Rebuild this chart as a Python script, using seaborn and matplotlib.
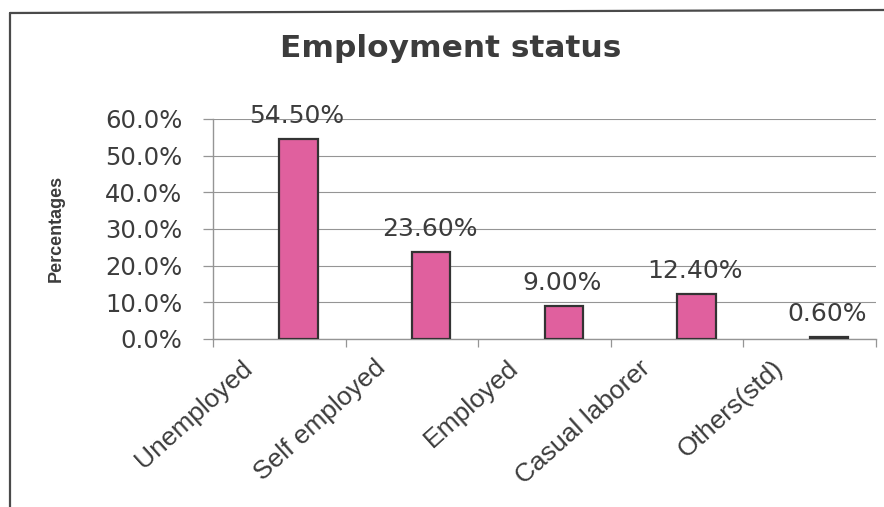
import matplotlib
matplotlib.use("Agg")
import matplotlib.pyplot as plt
import matplotlib.transforms as mtransforms
from matplotlib.lines import Line2D
import pandas as pd
import seaborn as sns

# Employment status of respondents (percent)
categories = ["Unemployed", "Self employed", "Employed", "Casual laborer", "Others(std)"]
percentages = [54.5, 23.6, 9.0, 12.4, 0.6]
y_ticks = [0, 10, 20, 30, 40, 50, 60]

df = pd.DataFrame({"status": categories, "pct": percentages})

sns.set_theme(style="white")
plt.rcParams["font.family"] = ["DejaVu Sans"]

W, H, DPI = 884, 507, 100
fig = plt.figure(figsize=(W / DPI, H / DPI), dpi=DPI)
fig.patch.set_facecolor("white")

ax = fig.add_axes([213 / W, 168 / H, 663 / W, 220 / H])

text_col = "#3c3c3c"
grid_col = "#959595"
bar_col = "#E0609E"
bar_w = 0.29

sns.barplot(data=df, x="status", y="pct", order=categories, color=bar_col,
            width=bar_w, saturation=1, edgecolor="#333333", linewidth=1.6,
            ax=ax, zorder=3)

# bars sit in the right half of each category slot
for p in ax.patches:
    p.set_x(p.get_x() + bar_w / 2)

# value labels above the bars
for p, v in zip(ax.patches, percentages):
    ax.annotate(f"{v:.2f}%", (p.get_x() + p.get_width() / 2, p.get_height()),
                xytext=(-1, 11.5), textcoords="offset points",
                ha="center", va="baseline", fontsize=18, color=text_col,
                zorder=4)

ax.set_xlim(-0.5, len(categories) - 0.5)
ax.set_ylim(0, 60)
ax.set_yticks(y_ticks)
ax.set_yticklabels([f"{t:.1f}%" for t in y_ticks])
ax.yaxis.grid(True, color=grid_col, linewidth=0.8, zorder=0)
ax.xaxis.grid(False)

# category boundary ticks on the x axis
ax.set_xticks([i - 0.5 for i in range(len(categories) + 1)], minor=True)
ax.tick_params(axis="x", which="minor", bottom=True, length=6, width=0.9,
               color=grid_col, direction="out")
ax.tick_params(axis="x", which="major", length=0, pad=12)
ax.tick_params(axis="y", which="major", left=True, length=7.2, width=0.9,
               color=grid_col, direction="out", pad=15, labelsize=17.5,
               labelcolor=text_col)

ax.set_xticks(range(len(categories)))
ax.set_xticklabels(categories, rotation=42, ha="right", va="top",
                   rotation_mode="anchor", fontsize=19, color=text_col,
                   family=["Liberation Sans", "DejaVu Sans"])
shift = mtransforms.ScaledTranslation(-38 / DPI, 0, fig.dpi_scale_trans)
for lab in ax.get_xticklabels():
    lab.set_transform(lab.get_transform() + shift)

for side in ("top", "right"):
    ax.spines[side].set_visible(False)
for side in ("left", "bottom"):
    ax.spines[side].set_color(grid_col)
    ax.spines[side].set_linewidth(1.0)

ax.set_xlabel("")
ax.set_ylabel("")

# y-axis title
fig.text(56 / W, 1 - 228 / H, "Percentages", rotation=90, ha="center",
         va="center", fontsize=13, fontweight="bold", color=text_col,
         family=["Liberation Sans", "DejaVu Sans"])

# chart title
fig.text(451 / W, 1 - 57 / H, "Employment status", ha="center",
         va="baseline", fontsize=22.5, fontweight="bold", color=text_col)

# frame around the chart
fig.add_artist(Line2D([10 / W, 10 / W], [1 - 13 / H, 0], transform=fig.transFigure,
                      color="#4a4a4a", linewidth=1.6))
fig.add_artist(Line2D([10 / W, 1.0], [1 - 13 / H, 1 - 10 / H], transform=fig.transFigure,
                      color="#4a4a4a", linewidth=1.6))

fig.savefig("out.png", dpi=DPI, facecolor="white")
